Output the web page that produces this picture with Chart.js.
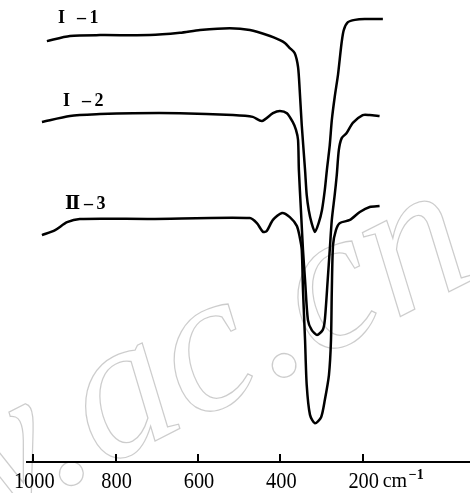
<!DOCTYPE html>
<html>
<head>
<meta charset="utf-8">
<script src="https://cdn.jsdelivr.net/npm/chart.js@4.4.0/dist/chart.umd.min.js"></script>
<style>
  html, body { margin: 0; padding: 0; background: #fff; }
  canvas { display: block; }
</style>
</head>
<body>
<canvas id="spectrum" width="470" height="493"></canvas>
<script>
// 远红外光谱 (透过率, 三条曲线纵向错开), 横轴 cm-1
const tickValues = [1000, 800, 600, 400, 200];

const wn1 = [967, 911, 838, 717, 644, 595, 523, 474, 425, 401, 389, 377, 365, 357, 353, 348, 340, 336, 331, 324,
  316, 307, 299, 292, 287, 280, 275, 268, 260, 256, 251, 246, 236, 219, 195, 151];
const t1 = [91.1, 92.2, 92.4, 92.4, 92.9, 93.5, 93.9, 93.5, 92.2, 91.3, 90.7, 89.6, 88.5, 85.5, 80.5, 72.9, 63.2, 57.8, 54.5, 51.7,
  49.8, 51.7, 54.5, 58.9, 63.2, 68.6, 74.0, 79.0, 83.8, 87.0, 90.9, 93.5, 95.2, 95.7, 95.9, 95.9];

const wn2 = [979, 911, 838, 758, 644, 515, 467, 445, 418, 401, 384, 370, 362, 357, 355, 350, 345, 340, 333, 324,
  311, 297, 292, 285, 280, 275, 268, 263, 258, 251, 239, 224, 200, 183, 159];
const t2 = [73.6, 74.9, 75.3, 75.5, 75.5, 75.1, 74.7, 73.8, 75.5, 76.0, 75.5, 73.6, 71.9, 69.7, 63.2, 54.5, 45.9, 39.4, 30.7, 28.6,
  27.5, 28.6, 30.7, 39.4, 45.9, 52.4, 57.8, 62.1, 67.5, 70.1, 71.2, 73.4, 75.1, 75.1, 74.9];

const wn3 = [979, 947, 918, 887, 717, 474, 457, 442, 433, 418, 396, 377, 360, 353, 348, 345, 340, 336, 328, 316,
  301, 292, 282, 277, 275, 272, 265, 256, 231, 207, 183, 159];
const t3 = [49.1, 50.2, 51.9, 52.6, 52.6, 52.8, 51.7, 49.8, 50.0, 52.4, 53.9, 53.0, 51.1, 48.7, 45.9, 37.2, 26.4, 16.7, 10.2, 8.4,
  9.7, 13.4, 18.8, 26.4, 37.2, 47.0, 50.2, 51.7, 52.4, 54.1, 55.2, 55.4];

// 曲线标注: 罗马数字, 后缀, 位置 (cm-1, 纵坐标)
const labelRoman = ['I', 'I', 'Ⅱ'];
const labelSuffix = ['–\u20091', '–\u20092', '–\u20093'];
const labelWn = [940, 928, 923];
const labelT = [96.1, 78.1, 55.8];

const toPoints = (xs, ys) => xs.map((x, i) => ({ x: x, y: ys[i] }));

const annotate = {
    id: 'annotate',
    beforeDatasetsDraw(chart) {
        // 背景水印
        const { ctx } = chart;
        ctx.save();
        ctx.translate(102, 468);
        ctx.rotate(-0.47);
        ctx.font = 'italic 200px "Liberation Serif"';
        ctx.strokeStyle = 'rgba(0,0,0,0.2)';
        ctx.lineWidth = 1.3;
        const pre = ctx.measureText('w.').width;
        ctx.strokeText('w.ac.cn', -pre, 0);
        ctx.restore();
    },
    afterDraw(chart) {
        const { ctx, chartArea, scales: { x, y } } = chart;
        const base = chartArea.bottom;
        ctx.save();
        // 刻度线朝上
        ctx.strokeStyle = '#000';
        ctx.lineWidth = 2;
        tickValues.forEach(v => {
            const px = Math.round(x.getPixelForValue(v));
            ctx.beginPath();
            ctx.moveTo(px, base);
            ctx.lineTo(px, base - 8);
            ctx.stroke();
        });

        // 刻度标签
        ctx.fillStyle = '#000';
        ctx.textBaseline = 'alphabetic';
        ctx.textAlign = 'center';
        ctx.font = '24px "Liberation Serif"';
        tickValues.forEach(v => {
            ctx.save();
            ctx.translate(x.getPixelForValue(v) + 1, base + 26);
            ctx.scale(0.85, 1);
            ctx.fillText(String(v), 0, 0);
            ctx.restore();
        });

        // 单位
        ctx.textAlign = 'left';
        const ux = x.getPixelForValue(200) + 20;
        ctx.font = '20px "Liberation Serif"';
        ctx.fillText('cm', ux, base + 25);
        ctx.font = 'bold 14px "Liberation Serif"';
        ctx.fillText('−1', ux + 26, base + 17);

        // 曲线名称
        ctx.textBaseline = 'middle';
        labelRoman.forEach((r, i) => {
            const lx = x.getPixelForValue(labelWn[i]);
            const ly = y.getPixelForValue(labelT[i]);
            ctx.font = 'bold 18px "Liberation Serif", "DejaVu Serif"';
            ctx.fillText(r, lx, ly);
            ctx.fillText(labelSuffix[i], lx + 19, ly);
        });
        ctx.restore();
    }
};

const lineStyle = {
    borderColor: '#000',
    borderWidth: 2.5,
    pointRadius: 0,
    fill: false,
    tension: 0.25
};

new Chart(document.getElementById('spectrum'), {
    type: 'line',
    data: {
        datasets: [
            { label: 'I-1', data: toPoints(wn1, t1), ...lineStyle },
            { label: 'I-2', data: toPoints(wn2, t2), ...lineStyle },
            { label: 'II-3', data: toPoints(wn3, t3), ...lineStyle }
        ]
    },
    options: {
        responsive: false,
        animation: false,
        devicePixelRatio: 1,
        layout: { padding: { left: 27, right: 0, top: 0, bottom: 31 } },
        plugins: {
            legend: { display: false },
            tooltip: { enabled: false }
        },
        scales: {
            x: {
                type: 'linear',
                reverse: true,
                min: -60.6,
                max: 1015.3,
                afterBuildTicks: scale => {
                    scale.ticks = tickValues.map(v => ({ value: v }));
                },
                grid: { drawOnChartArea: false, drawTicks: false },
                border: { display: true, color: '#000', width: 2 },
                ticks: { display: false }
            },
            y: {
                display: false,
                min: 0,
                max: 100
            }
        }
    },
    plugins: [annotate]
});
</script>
</body>
</html>
